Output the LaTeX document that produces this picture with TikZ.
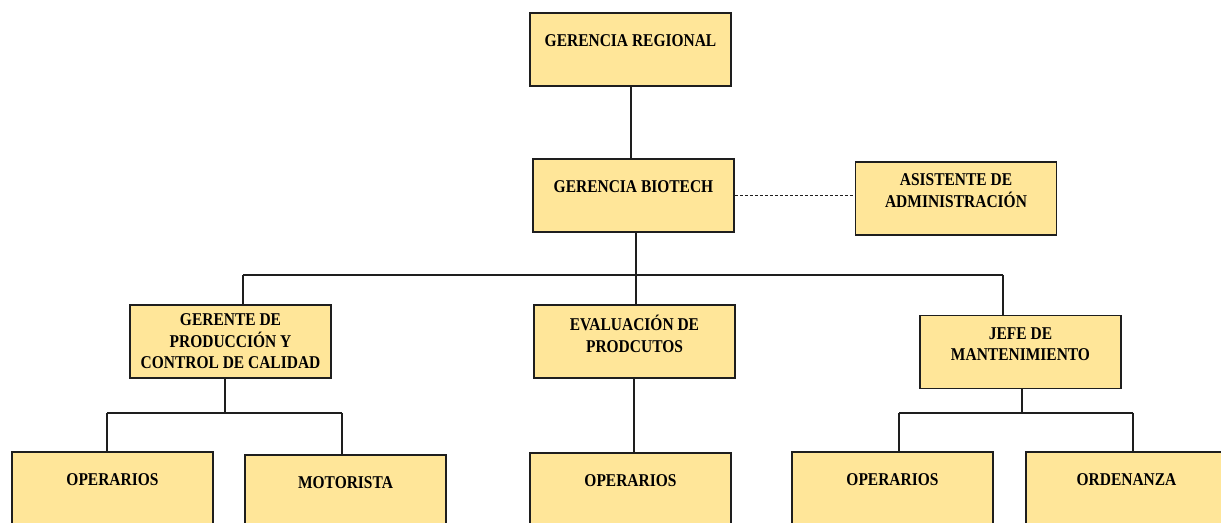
\documentclass[tikz,border=0pt]{standalone}
\usepackage{fontspec}
\setmainfont{Liberation Serif}[FakeStretch=0.86]
\usepackage{tikz}
\usetikzlibrary{calc,positioning}
\definecolor{cargofill}{RGB}{255,230,153}
\definecolor{cargoline}{RGB}{30,30,30}
\tikzset{%
	cargo/.style    = {draw=cargoline, fill=cargofill, line width=0.9pt, rectangle, inner sep=0pt, minimum width=100.5pt, minimum height=36.5pt}, % Box
	rotulo/.style   = {font=\fontsize{9}{10.75}\selectfont\bfseries, align=center, inner sep=0pt}, % Text
	enlace/.style   = {draw=cargoline, line width=0.65pt}, % Connector
	apoyo/.style    = {dash pattern=on 1.5pt off 1pt}, % Staff line
	waypoint/.style = {coordinate},
}

\begin{document}
\begin{tikzpicture}[x=0.5pt, y=-0.5pt]
	\useasboundingbox (0,0) rectangle (1221,523);
	\node[cargo, label={[rotulo,yshift=4.25pt]center:GERENCIA REGIONAL}] (gr) at (630.5,49.5) {};
	\node[cargo, label={[rotulo,yshift=4.25pt]center:GERENCIA BIOTECH}] (gb) at (633.5,195.5) {};
	\node[cargo, label={[rotulo,yshift=4pt]center:{ASISTENTE DE\\ADMINISTRACIÓN}}] (asis) at (956,198.5) {};
	\node[cargo, label={[rotulo,yshift=0pt]center:{GERENTE DE\\PRODUCCIÓN Y\\CONTROL DE CALIDAD}}] (gp) at (230.5,341.5) {};
	\node[cargo, label={[rotulo,yshift=3.75pt]center:{EVALUACIÓN DE\\PRODCUTOS}}] (ev) at (634.5,341.5) {};
	\node[cargo, label={[rotulo,yshift=4pt]center:{JEFE DE\\MANTENIMIENTO}}] (jefe) at (1020.5,352) {};
	\node[cargo, label={[rotulo,yshift=4.25pt]center:OPERARIOS}] (op1) at (112.5,488.5) {};
	\node[cargo, label={[rotulo,yshift=4.25pt]center:MOTORISTA}] (mot) at (345.5,491.5) {};
	\node[cargo, label={[rotulo,yshift=4.25pt]center:OPERARIOS}] (op2) at (630.5,489.5) {};
	\node[cargo, label={[rotulo,yshift=4.25pt]center:OPERARIOS}] (op3) at (892.5,488.5) {};
	\node[cargo, label={[rotulo,yshift=4.25pt]center:ORDENANZA}] (ord) at (1126.5,488.5) {};

	\node[waypoint] (a0) at (631,120) {};
	\node[waypoint] (e0) at (634,420) {};
	\node[waypoint] (b1) at (243,275) {};
	\node[waypoint] (b2) at (636,275) {};
	\node[waypoint] (b3) at (1003,275) {};
	\node[waypoint] (c0) at (225,413) {};
	\node[waypoint] (c1) at (107,413) {};
	\node[waypoint] (c2) at (342,413) {};
	\node[waypoint] (d0) at (1022,413) {};
	\node[waypoint] (d1) at (899,413) {};
	\node[waypoint] (d2) at (1133,413) {};

	\draw[enlace] (gr.south -| a0) -- (a0 |- gb.north);
	\draw[enlace,apoyo] (gb.east) -- (gb.east -| asis.west);
	\draw[enlace] (gb.south -| b2) -- (b2 |- ev.north);
	\draw[enlace] (b1) -- (b3);
	\draw[enlace] (b1) -- (b1 |- gp.north);
	\draw[enlace] (b3) -- (b3 |- jefe.north);
	\draw[enlace] (gp.south -| c0) -- (c0);
	\draw[enlace] (c1) -- (c2);
	\draw[enlace] (c1) -- (c1 |- op1.north);
	\draw[enlace] (c2) -- (c2 |- mot.north);
	\draw[enlace] (ev.south -| e0) -- (e0 |- op2.north);
	\draw[enlace] (jefe.south -| d0) -- (d0);
	\draw[enlace] (d1) -- (d2);
	\draw[enlace] (d1) -- (d1 |- op3.north);
	\draw[enlace] (d2) -- (d2 |- ord.north);
\end{tikzpicture}
\end{document}
